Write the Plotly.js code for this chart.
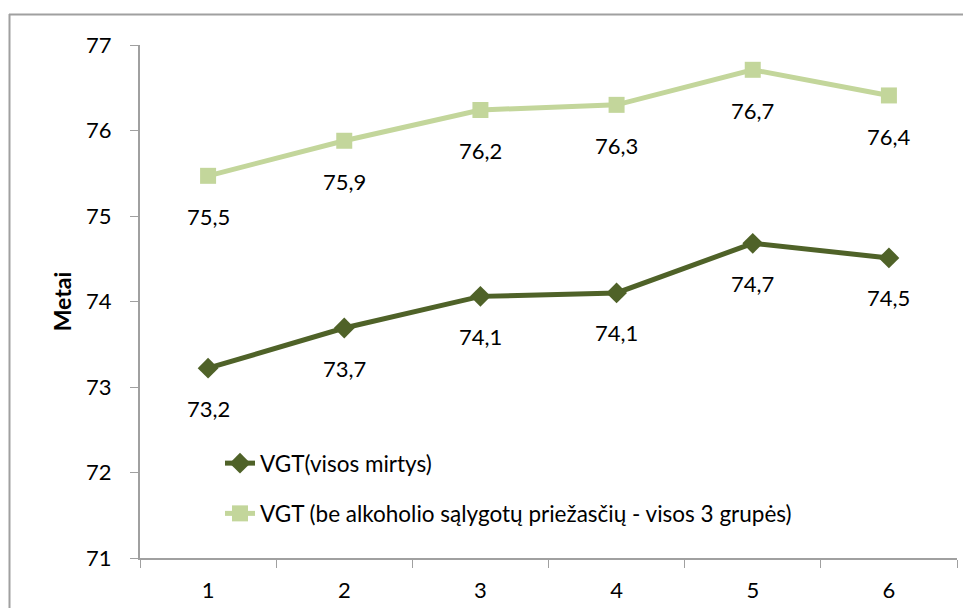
<!DOCTYPE html>
<html>
<head>
<meta charset="utf-8">
<script src="https://cdn.plot.ly/plotly-3.0.1.min.js"></script>
<style>
html,body{margin:0;padding:0;background:#fff;}
#chart{width:963px;height:608px;}
</style>
</head>
<body>
<div id="chart"></div>
<script>
const categories = ["1", "2", "3", "4", "5", "6"];
const seriesNames = ["VGT(visos mirtys)", "VGT (be alkoholio sąlygotų priežasčių - visos 3 grupės)"];
const allDeaths = [73.22, 73.69, 74.06, 74.10, 74.68, 74.51];
const noAlcohol = [75.47, 75.88, 76.24, 76.30, 76.71, 76.41];
const allDeathsLabels = ["73,2", "73,7", "74,1", "74,1", "74,7", "74,5"];
const noAlcoholLabels = ["75,5", "75,9", "76,2", "76,3", "76,7", "76,4"];
const yTicks = [71, 72, 73, 74, 75, 76, 77];
const yTitle = "Metai";

const FONT = "Lato, 'Open Sans', sans-serif";
const darkColor = "#4f6228";
const lightColor = "#c3d69b";

const traces = [
  {
    x: categories, y: allDeaths, name: seriesNames[0], type: "scatter", mode: "lines+markers",
    line: {color: darkColor, width: 5},
    marker: {symbol: "diamond", size: 16, color: darkColor},
    legendgroup: "a", cliponaxis: false
  },
  {
    x: categories, y: noAlcohol, name: seriesNames[1], type: "scatter", mode: "lines+markers",
    line: {color: lightColor, width: 5},
    marker: {symbol: "square", size: 16, color: lightColor},
    legendgroup: "b", cliponaxis: false
  }
];

const annotations = [];
categories.forEach((c, i) => {
  annotations.push({x: i, y: allDeaths[i], text: allDeathsLabels[i], showarrow: false,
    yshift: -40, font: {family: FONT, size: 22, color: "#000"}});
  annotations.push({x: i, y: noAlcohol[i], text: noAlcoholLabels[i], showarrow: false,
    yshift: -41, font: {family: FONT, size: 22, color: "#000"}});
});

const L = 140, R = 6, T = 45, B = 50, W = 963, H = 608;
const pw = W - L - R, ph = H - T - B;
const px = v => (v - L) / pw;
const py = v => (H - B - v) / ph;

const layout = {
  width: W, height: H,
  margin: {l: L, r: R, t: T, b: B},
  paper_bgcolor: "#fff", plot_bgcolor: "#fff",
  font: {family: FONT, size: 22, color: "#000"},
  showlegend: true,
  legend: {
    x: px(220), y: py(442), xanchor: "left", yanchor: "top",
    font: {family: FONT, size: 22.5, color: "#000"},
    bgcolor: "rgba(0,0,0,0)", tracegroupgap: 18, itemwidth: 30
  },
  xaxis: {
    type: "category", range: [-0.5, 5.5], tickson: "boundaries", ticks: "outside", ticklen: 8, tickcolor: "#a0a0a0",
    showline: true, linecolor: "#a0a0a0", linewidth: 2, showgrid: false, zeroline: false,
    tickfont: {family: FONT, size: 22, color: "#000"}, ticklabelstandoff: 12,
    fixedrange: true
  },
  yaxis: {
    range: [71, 77], tickvals: yTicks, ticks: "outside", ticklen: 8, tickcolor: "#a0a0a0",
    showline: true, linecolor: "#a0a0a0", linewidth: 2, showgrid: false, zeroline: false,
    tickfont: {family: FONT, size: 22, color: "#000"}, ticklabelstandoff: 14,
    title: {text: yTitle, font: {family: FONT, size: 23, color: "#000", weight: "bold"}, standoff: 8},
    automargin: false
  },
  annotations: annotations,
  shapes: [
    {type: "line", xref: "paper", yref: "paper", x0: px(9), x1: px(963), y0: py(14.5), y1: py(14.5),
     line: {color: "#a0a0a0", width: 2}},
    {type: "line", xref: "paper", yref: "paper", x0: px(9.5), x1: px(9.5), y0: py(14), y1: py(608),
     line: {color: "#a0a0a0", width: 2}}
  ]
};

Plotly.newPlot("chart", traces, layout, {displayModeBar: false, staticPlot: true});
</script>
</body>
</html>
